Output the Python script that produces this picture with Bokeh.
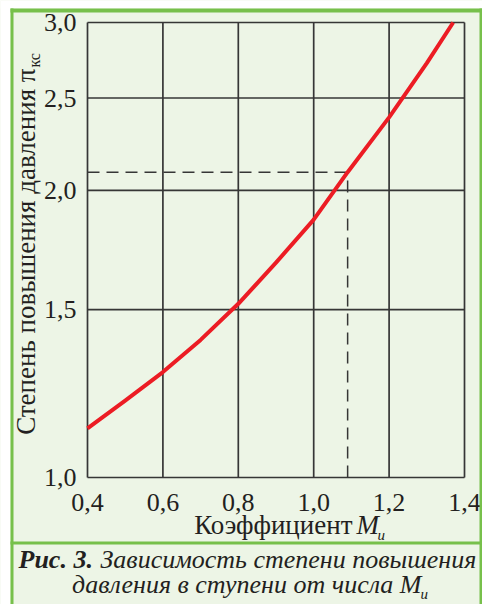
import math
from bokeh.plotting import figure
from bokeh.models import Range1d, FixedTicker, CustomJSTickFormatter, Label, BoxAnnotation
from bokeh.embed import file_html
from bokeh.resources import INLINE

# ---- data ----
mach = [0.40, 0.50, 0.60, 0.70, 0.80, 0.90, 1.00, 1.09, 1.20, 1.30, 1.37]
pi_kc = [1.126, 1.204, 1.290, 1.394, 1.521, 1.680, 1.864, 2.090, 2.386, 2.720, 3.000]
x_ticks = [0.4, 0.6, 0.8, 1.0, 1.2, 1.4]
y_ticks = [1.0, 1.5, 2.0, 2.5, 3.0]
ref_mach = 1.09
ref_pi = 2.09

# ---- layout (pixels) ----
W, H = 482, 604
PL, PR, PT, PB = 87, 464, 22, 477      # plot rectangle inside the canvas

BG = "#edf5e6"
GREEN = "#77c04b"
INK = "#231f20"
GRID = "#363636"
RED = "#ec1c24"
FONT = "Liberation Serif"

# ranges extended so that the data rectangle lands on the plot rectangle
x0, x1 = x_ticks[0], x_ticks[-1]
kx = (x1 - x0) / (PR - PL)
xr = Range1d(x0 - PL * kx, x1 + (W - PR) * kx)
ly0, ly1 = math.log(y_ticks[0]), math.log(y_ticks[-1])
ky = (ly1 - ly0) / (PB - PT)
yr = Range1d(math.exp(ly0 - (H - PB) * ky), math.exp(ly1 + PT * ky))

p = figure(width=W, height=H, output_backend="svg", toolbar_location=None,
           x_range=xr, y_range=yr, y_axis_type="log", min_border=0)
p.background_fill_color = BG
p.border_fill_color = BG
p.outline_line_color = None
p.xgrid.visible = False
p.ygrid.visible = False

fmt = CustomJSTickFormatter(code="return tick.toFixed(1).replace('.', ',');")
for ax, ticks in ((p.xaxis[0], x_ticks), (p.yaxis[0], y_ticks)):
    ax.ticker = FixedTicker(ticks=ticks)
    ax.formatter = fmt
    ax.axis_line_color = None
    ax.major_tick_line_color = None
    ax.minor_tick_line_color = None
    ax.major_label_text_font = FONT
    ax.major_label_text_font_size = "26px"
    ax.major_label_text_color = INK
p.xaxis.fixed_location = y_ticks[0]
p.yaxis.fixed_location = x_ticks[0]
p.xaxis.major_label_standoff = 10
p.yaxis.major_label_standoff = 5

# grid lines (including the plot border) from the tick values
nx, ny = len(x_ticks), len(y_ticks)
p.segment(x0=x_ticks, y0=[y_ticks[0]] * nx, x1=x_ticks, y1=[y_ticks[-1]] * nx,
          line_color=GRID, line_width=1.7)
p.segment(x0=[x_ticks[0]] * ny, y0=y_ticks, x1=[x_ticks[-1]] * ny, y1=y_ticks,
          line_color=GRID, line_width=1.7)

# reference dashed lines
p.line([x_ticks[0], ref_mach], [ref_pi, ref_pi], line_color=GRID, line_width=1.5, line_dash="12 7")
p.line([ref_mach, ref_mach], [y_ticks[0], ref_pi], line_color=GRID, line_width=1.5, line_dash="12 7")

# main curve
p.line(mach, pi_kc, line_color=RED, line_width=4, line_join="round")


def lab(text, x, y, size, style="normal", align="left", angle=0.0):
    off = 0.31 * size           # baseline correction of the renderer
    if angle == 0.0:
        y -= off
    else:
        x -= off
    p.add_layout(Label(text=text, x=x, y=y, x_units="canvas", y_units="canvas",
                       text_font=FONT, text_font_size=f"{size}px", text_font_style=style,
                       text_color=INK, text_align=align, text_baseline="alphabetic",
                       angle=angle))


def box(left, right, top, bottom, color):
    p.add_layout(BoxAnnotation(left=left, right=right, top=top, bottom=bottom,
                               left_units="canvas", right_units="canvas",
                               top_units="canvas", bottom_units="canvas",
                               fill_color=color, fill_alpha=1.0, line_alpha=0.0, level="overlay"))


# frame decoration
box(0, 10, 0, 604, "#ffffff")
box(0, 482, 0, 8, "#ffffff")
box(10, 13, 8, 604, GREEN)
box(10, 482, 8, 12, GREEN)
box(479, 482, 8, 604, GREEN)
box(10, 482, 541, 544, GREEN)

# y axis label
lab("Степень повышения давления π", 34, 68, 27, align="right", angle=math.pi / 2)
lab("кс", 39, 67, 16, align="left", angle=math.pi / 2)

# x axis label
lab("Коэффициент", 352, 533, 27, align="right")
lab("M", 356, 533, 27, style="italic")
lab("и", 377, 539, 15, style="italic")

# caption
lab("Рис. 3.", 18, 567, 26, style="bold italic")
lab("Зависимость степени повышения", 100, 567, 26, style="italic")
lab("давления в ступени от числа M", 421, 592, 26, style="italic", align="right")
lab("и", 420, 598, 15, style="italic")

open("out.html", "w").write(file_html(p, INLINE))
